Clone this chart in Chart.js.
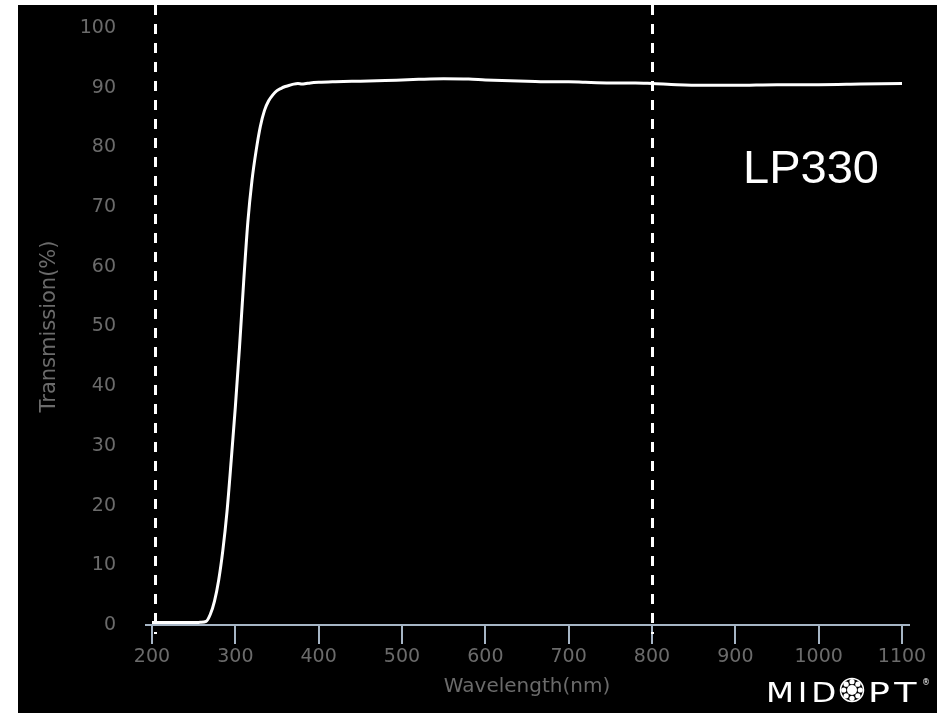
<!DOCTYPE html>
<html>
<head>
<meta charset="utf-8">
<script src="https://cdn.jsdelivr.net/npm/chart.js@4"></script>
<style>
  html, body { margin: 0; padding: 0; background: #fff; }
  #caixa { position: absolute; left: 18px; top: 5px; width: 919px; height: 708px; background: #000; }
</style>
</head>
<body>
<div id="caixa"><canvas id="grafico" width="919" height="708"></canvas></div>
<script>
// comprimento de onda (nm) e transmissão (%)
const comprimentos = [200, 210, 220, 230, 240, 250, 258, 265, 270, 275, 280, 285, 290, 295, 300, 305, 310, 315, 320, 325, 330, 335, 340, 345, 350, 355, 360, 365, 370, 375, 380, 385, 390, 400, 420, 450, 480, 500, 520, 550, 580, 600, 620, 650, 680, 700, 720, 750, 780, 800, 830, 860, 900, 950, 1000, 1050, 1100]
const transmissao = [0.4, 0.4, 0.4, 0.4, 0.4, 0.4, 0.45, 0.6, 1.8, 4.0, 7.5, 12.5, 19, 27.5, 36.5, 46.5, 57.5, 67.5, 74.5, 79.5, 83.5, 86.2, 87.8, 88.8, 89.5, 89.9, 90.2, 90.4, 90.6, 90.7, 90.6, 90.7, 90.8, 90.9, 91.0, 91.1, 91.2, 91.3, 91.4, 91.5, 91.45, 91.3, 91.2, 91.1, 91.0, 91.0, 90.9, 90.8, 90.8, 90.7, 90.5, 90.4, 90.4, 90.5, 90.5, 90.6, 90.7]
const linhasTracejadas = [203, 800]
const ticksX = [200, 300, 400, 500, 600, 700, 800, 900, 1000, 1100]
const ticksY = [0, 10, 20, 30, 40, 50, 60, 70, 80, 90, 100]
const rotulo = 'LP330'

const pontos = comprimentos.map((c, i) => ({ x: c, y: transmissao[i] }))
const corEixo = '#a6b5c5'
const corTexto = '#6b6b6b'

const extras = {
  id: 'extras',
  beforeDatasetsDraw(chart) {
    const c = chart.ctx
    const x = chart.scales.x
    c.save()
    c.strokeStyle = '#fff'
    c.lineWidth = 3
    c.setLineDash([10, 9])
    linhasTracejadas.forEach(v => {
      const px = Math.round(x.getPixelForValue(v)) + 0.5
      c.beginPath()
      c.moveTo(px, 0)
      c.lineTo(px, chart.chartArea.bottom + 9)
      c.stroke()
    })
    c.setLineDash([])
    // linha do eixo x, um pouco mais longa que a área
    c.strokeStyle = corEixo
    c.lineWidth = 2
    c.beginPath()
    c.moveTo(chart.chartArea.left - 7, chart.chartArea.bottom)
    c.lineTo(chart.chartArea.right + 8, chart.chartArea.bottom)
    c.stroke()
    c.restore()
  },
  afterDraw(chart) {
    const c = chart.ctx
    c.save()
    c.fillStyle = '#fff'
    c.textBaseline = 'alphabetic'
    c.font = '47px "Liberation Sans", Arial, sans-serif'
    c.fillText(rotulo, 725, 178)

    // logo
    c.font = '26px "DejaVu Sans", sans-serif'
    c.letterSpacing = '3px'
    c.save()
    c.translate(748, 697)
    c.scale(1.25, 1)
    c.fillText('MID', 0, 0)
    c.restore()
    c.save()
    c.translate(850, 697)
    c.scale(1.4, 1)
    c.fillText('PT', 0, 0)
    c.restore()
    c.letterSpacing = '0px'
    const cx = 834, cy = 685
    c.strokeStyle = '#fff'
    c.lineWidth = 1.5
    c.beginPath()
    c.arc(cx, cy, 11.5, 0, Math.PI * 2)
    c.stroke()
    c.beginPath()
    c.arc(cx, cy, 5, 0, Math.PI * 2)
    c.fill()
    for (let k = 0; k < 8; k++) {
      const a = k * Math.PI / 4
      c.beginPath()
      c.arc(cx + Math.cos(a) * 8.3, cy + Math.sin(a) * 8.3, 2.6, 0, Math.PI * 2)
      c.fill()
    }
    c.font = '8px "DejaVu Sans", sans-serif'
    c.fillText('®', 904, 680)
    c.restore()
  }
}

const ctx = document.getElementById('grafico')
let grafico = new Chart(ctx, {
  type: 'scatter',
  data: {
    datasets: [{
      label: rotulo,
      data: pontos,
      showLine: true,
      borderColor: '#fff',
      borderWidth: 3,
      pointRadius: 0,
      cubicInterpolationMode: 'monotone',
      fill: false
    }]
  },
  options: {
    responsive: false,
    animation: false,
    devicePixelRatio: 1,
    layout: { padding: { top: 23, right: 35, left: 0, bottom: 0 } },
    plugins: { legend: { display: false }, tooltip: { enabled: false } },
    scales: {
      x: {
        type: 'linear',
        min: 200,
        max: 1100,
        afterBuildTicks: s => { s.ticks = ticksX.map(v => ({ value: v })) },
        afterFit: s => { s.height = 88 },
        border: { display: false },
        grid: { drawOnChartArea: false, drawTicks: true, tickLength: 19, color: corEixo, lineWidth: 2 },
        ticks: { color: corTexto, font: { family: 'DejaVu Sans', size: 19 }, padding: 2, maxRotation: 0, callback: v => String(v) },
        title: { display: true, text: 'Wavelength(nm)', color: corTexto, font: { family: 'DejaVu Sans', size: 20 }, padding: { top: 0, bottom: 14 } }
      },
      y: {
        min: 0,
        max: 100,
        afterBuildTicks: s => { s.ticks = ticksY.map(v => ({ value: v })) },
        afterFit: s => { s.width = 134 },
        border: { display: false },
        // marcas invisíveis só para afastar os rótulos
        grid: { display: true, drawOnChartArea: false, drawTicks: true, tickLength: 34, color: 'transparent' },
        ticks: { color: corTexto, font: { family: 'DejaVu Sans', size: 19 }, padding: 2, callback: v => String(v) },
        title: { display: true, text: 'Transmission(%)', color: corTexto, font: { family: 'DejaVu Sans', size: 21 }, padding: { top: 19, bottom: 0 } }
      }
    }
  },
  plugins: [extras]
})
</script>
</body>
</html>
